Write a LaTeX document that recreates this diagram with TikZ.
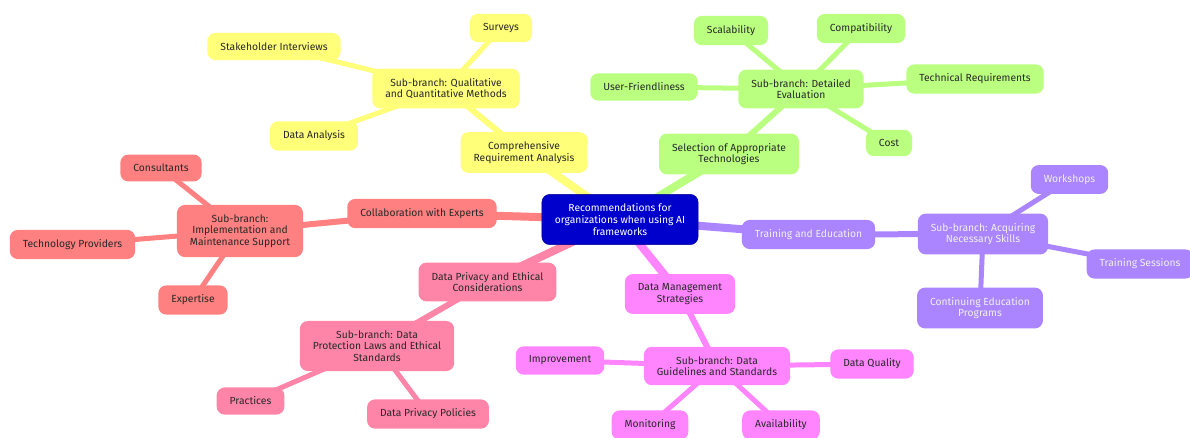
\documentclass[tikz,border=0pt]{standalone}
\usepackage{fontspec}
\setmainfont{Fira Sans}
\usetikzlibrary{backgrounds}
\definecolor{rootblue}{RGB}{0,0,204}
\definecolor{mmyellow}{RGB}{255,255,122}
\definecolor{mmgreen}{RGB}{186,255,128}
\definecolor{mmred}{RGB}{255,128,128}
\definecolor{mmpink}{RGB}{255,133,168}
\definecolor{mmmagenta}{RGB}{255,133,255}
\definecolor{mmpurple}{RGB}{170,133,255}
\definecolor{mmtext}{RGB}{40,40,40}
\tikzset{
  mmbox/.style={rounded corners=8pt, align=center, inner xsep=13pt, inner ysep=9.5pt,
    font=\fontsize{10.3}{11.6}\selectfont, text=mmtext},
  rootbox/.style={mmbox, fill=rootblue, draw=rootblue!70!black, text=white},
  ybox/.style={mmbox, fill=mmyellow},
  gbox/.style={mmbox, fill=mmgreen},
  rbox/.style={mmbox, fill=mmred},
  pbox/.style={mmbox, fill=mmpink},
  mbox/.style={mmbox, fill=mmmagenta},
  vbox/.style={mmbox, fill=mmpurple, text=white!94!black},
  depthone/.style={line width=8pt},
  depthtwo/.style={line width=6pt},
  depththree/.style={line width=5pt},
}
\begin{document}
\begin{tikzpicture}[x=1pt,y=-1pt]
    \useasboundingbox (0,0) rectangle (1190,437);
    \clip (0,0) rectangle (1190,437);
    \node[rootbox] (root) at (620,219.5) {Recommendations for\\organizations when using AI\\frameworks};
    \node[ybox] (req) at (524,152.5) {Comprehensive\\Requirement Analysis};
    \node[ybox] (qual) at (446,88.5) {Sub-branch: Qualitative\\and Quantitative Methods};
    \node[ybox] (surveys) at (501,28) {Surveys};
    \node[ybox] (stake) at (274,46.5) {Stakeholder Interviews};
    \node[ybox] (danal) at (314,136) {Data Analysis};
    \node[gbox] (sel) at (729,154) {Selection of Appropriate\\Technologies};
    \node[gbox] (deval) at (801,89) {Sub-branch: Detailed\\Evaluation};
    \node[gbox] (scal) at (731,30.5) {Scalability};
    \node[gbox] (compat) at (861,28.5) {Compatibility};
    \node[gbox] (userf) at (644,87) {User-Friendliness};
    \node[gbox] (techr) at (975,79) {Technical Requirements};
    \node[gbox] (cost) at (889,143) {Cost};
    \node[vbox] (train) at (808.5,234.5) {Training and Education};
    \node[vbox] (skills) at (983,234) {Sub-branch: Acquiring\\Necessary Skills};
    \node[vbox] (work) at (1069.5,179.5) {Workshops};
    \node[vbox] (tsess) at (1140,264) {Training Sessions};
    \node[vbox] (cont) at (980,308) {Continuing Education\\Programs};
    \node[mbox] (dms) at (680,294) {Data Management\\Strategies};
    \node[mbox] (dguide) at (717,366) {Sub-branch: Data\\Guidelines and Standards};
    \node[mbox] (dqual) at (872,364) {Data Quality};
    \node[mbox] (improve) at (560,360.5) {Improvement};
    \node[mbox] (monit) at (650,425) {Monitoring};
    \node[mbox] (avail) at (781,425) {Availability};
    \node[pbox] (dpriv) at (487.5,282) {Data Privacy and Ethical\\Considerations};
    \node[pbox] (dprot) at (377,346) {Sub-branch: Data\\Protection Laws and Ethical\\Standards};
    \node[pbox] (pract) at (250.5,401) {Practices};
    \node[pbox] (dpp) at (428,414) {Data Privacy Policies};
    \node[rbox] (collab) at (422,213.5) {Collaboration with Experts};
    \node[rbox] (impl) at (240,231) {Sub-branch:\\Implementation and\\Maintenance Support};
    \node[rbox] (consult) at (161,168) {Consultants};
    \node[rbox] (techp) at (72.5,244.5) {Technology Providers};
    \node[rbox] (expert) at (193,300) {Expertise};
    \begin{pgfonlayer}{background}
        \draw[mmyellow,depthone] (root.center) -- (req.center);
        \draw[mmyellow,depthtwo] (req.center) -- (qual.center);
        \draw[mmyellow,depththree] (qual.center) -- (surveys.center);
        \draw[mmyellow,depththree] (qual.center) -- (stake.center);
        \draw[mmyellow,depththree] (qual.center) -- (danal.center);
        \draw[mmgreen,depthone] (root.center) -- (sel.center);
        \draw[mmgreen,depthtwo] (sel.center) -- (deval.center);
        \draw[mmgreen,depththree] (deval.center) -- (scal.center);
        \draw[mmgreen,depththree] (deval.center) -- (compat.center);
        \draw[mmgreen,depththree] (deval.center) -- (userf.center);
        \draw[mmgreen,depththree] (deval.center) -- (techr.center);
        \draw[mmgreen,depththree] (deval.center) -- (cost.center);
        \draw[mmpurple,depthone] (root.center) -- (train.center);
        \draw[mmpurple,depthtwo] (train.center) -- (skills.center);
        \draw[mmpurple,depththree] (skills.center) -- (work.center);
        \draw[mmpurple,depththree] (skills.center) -- (tsess.center);
        \draw[mmpurple,depththree] (skills.center) -- (cont.center);
        \draw[mmmagenta,depthone] (root.center) -- (dms.center);
        \draw[mmmagenta,depthtwo] (dms.center) -- (dguide.center);
        \draw[mmmagenta,depththree] (dguide.center) -- (dqual.center);
        \draw[mmmagenta,depththree] (dguide.center) -- (improve.center);
        \draw[mmmagenta,depththree] (dguide.center) -- (monit.center);
        \draw[mmmagenta,depththree] (dguide.center) -- (avail.center);
        \draw[mmpink,depthone] (root.center) -- (dpriv.center);
        \draw[mmpink,depthtwo] (dpriv.center) -- (dprot.center);
        \draw[mmpink,depththree] (dprot.center) -- (pract.center);
        \draw[mmpink,depththree] (dprot.center) -- (dpp.center);
        \draw[mmred,depthone] (root.center) -- (collab.center);
        \draw[mmred,depthtwo] (collab.center) -- (impl.center);
        \draw[mmred,depththree] (impl.center) -- (consult.center);
        \draw[mmred,depththree] (impl.center) -- (techp.center);
        \draw[mmred,depththree] (impl.center) -- (expert.center);
    \end{pgfonlayer}
\end{tikzpicture}
\end{document}
